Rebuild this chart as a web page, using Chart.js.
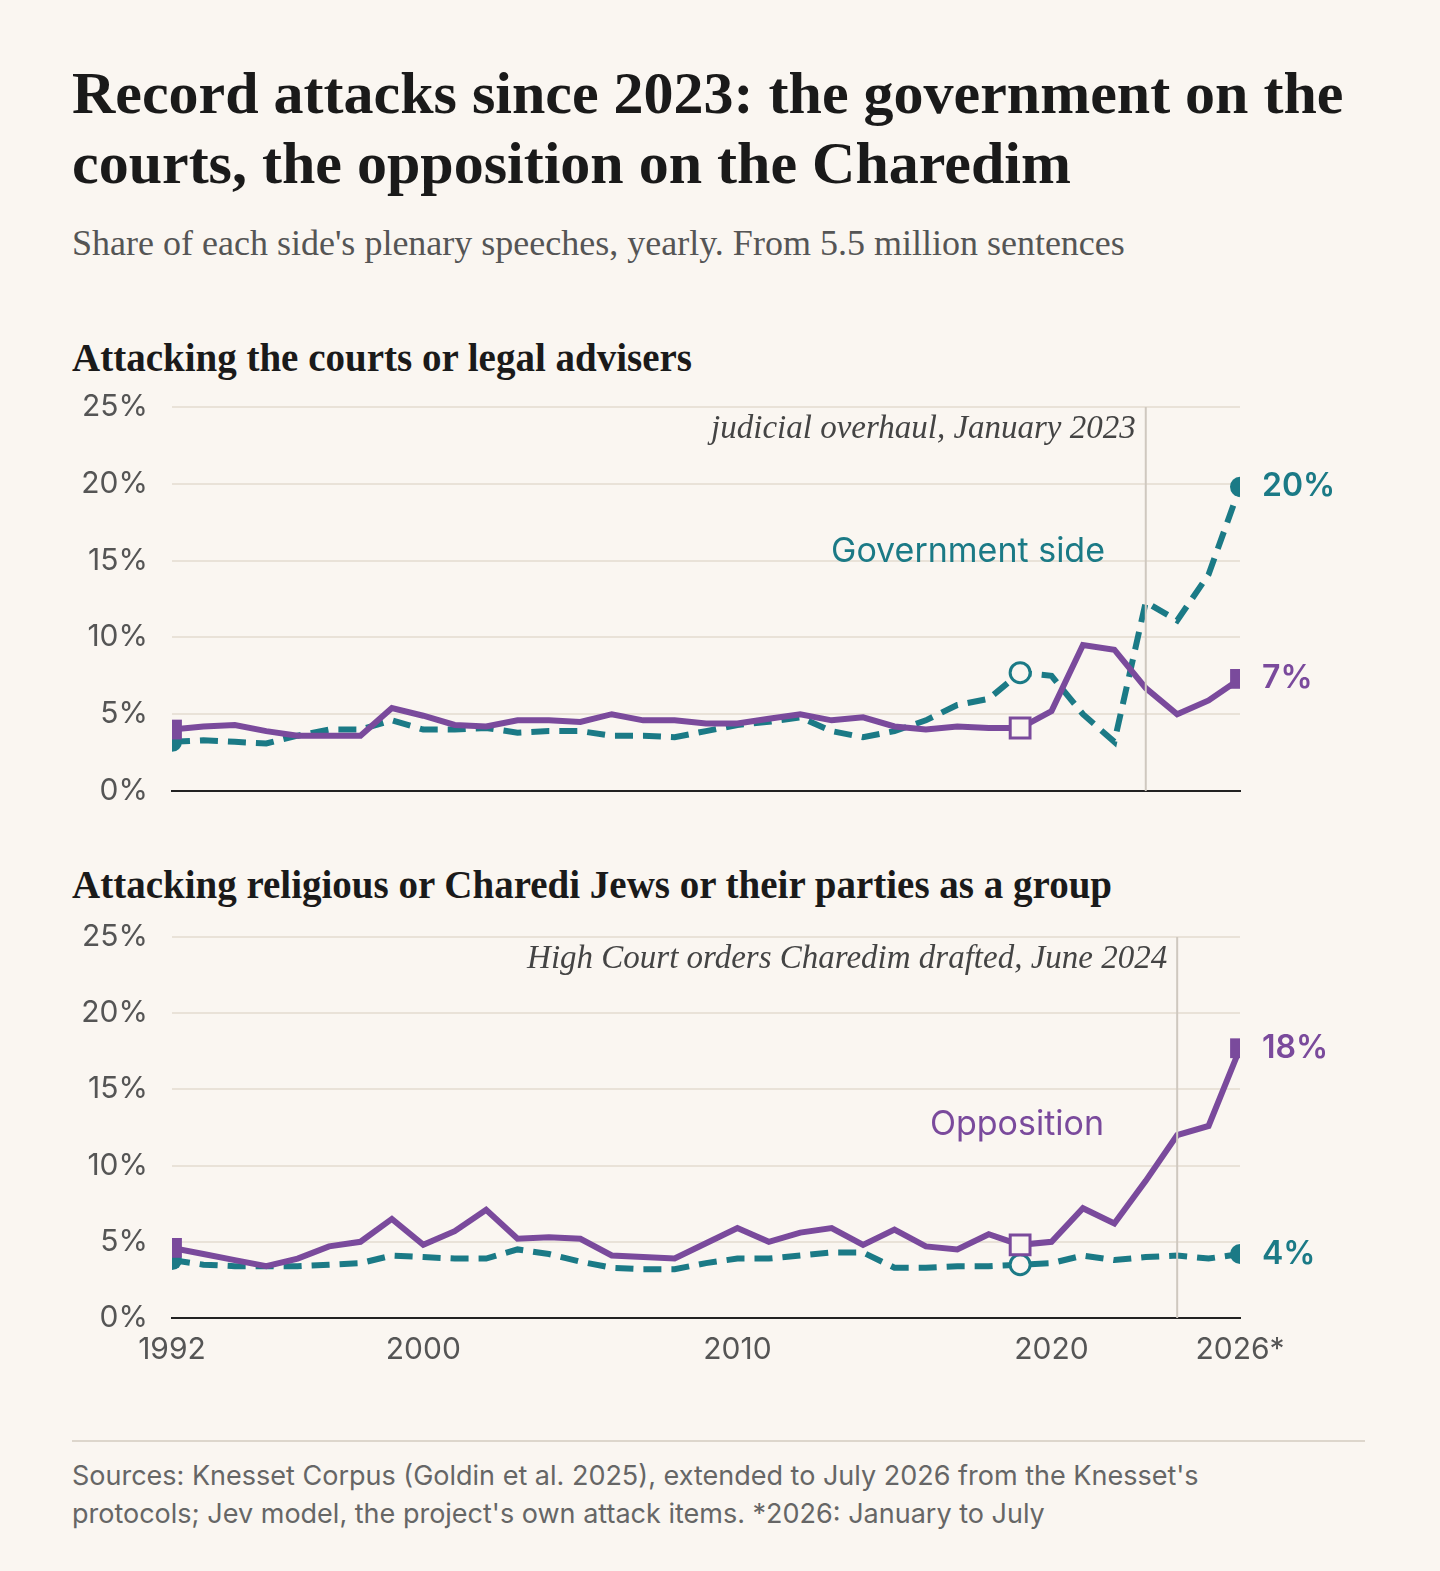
<!DOCTYPE html>
<html>
<head>
<meta charset="utf-8">
<script src="https://cdn.jsdelivr.net/npm/chart.js@4"></script>
<style>
  body { margin:0; background:#faf6f1; width:1440px; height:1571px; position:relative; overflow:hidden; }
  .t { position:absolute; left:72px; margin:0; color:#1a1a1a; }
  h1.t { top:58px; font:bold 60px/70px "Liberation Serif", "DejaVu Serif", serif; width:1340px; }
  .sub { top:222px; font:36px "Liberation Serif", serif; color:#555 !important; }
  h2.t { font:bold 39px "Liberation Serif", serif; }
  canvas { position:absolute; left:0; }
  .rule { position:absolute; left:72px; width:1293px; top:1440px; border-top:2px solid #ddd6cc; }
  .src { position:absolute; left:72px; top:1457px; font:27px/38px Inter, sans-serif; color:#666; width:1200px; }
</style>
</head>
<body>
<h1 class="t">Record attacks since 2023: the government on the courts, the opposition on the Charedim</h1>
<p class="t sub">Share of each side's plenary speeches, yearly. From 5.5 million sentences</p>
<h2 class="t" style="top:335px">Attacking the courts or legal advisers</h2>
<div style="position:absolute;top:365px;left:0"><canvas id="c1" width="1440" height="468"></canvas></div>
<h2 class="t" style="top:862px">Attacking religious or Charedi Jews or their parties as a group</h2>
<div style="position:absolute;top:895px;left:0"><canvas id="c2" width="1440" height="493"></canvas></div>
<div class="rule"></div>
<div class="src">Sources: Knesset Corpus (Goldin et al. 2025), extended to July 2026 from the Knesset's protocols; Jev model, the project's own attack items. *2026: January to July</div>
<script>
const years = [];
for (let y = 1992; y <= 2026; y++) years.push(y);
const xTicks = [1992, 2000, 2010, 2020, 2026];
const yTicks = [0, 5, 10, 15, 20, 25];

// Courts chart (%)
const courtsOpposition = [4.0,4.2,4.3,3.9,3.6,3.6,3.6,5.4,4.9,4.3,4.2,4.6,4.6,4.5,5.0,4.6,4.6,4.4,4.4,4.7,5.0,4.6,4.8,4.2,4.0,4.2,4.1,4.1,5.2,9.5,9.2,6.7,5.0,5.9,7.3];
const courtsGovernment = [3.2,3.3,3.2,3.1,3.6,4.0,4.0,4.6,4.0,4.0,4.1,3.8,3.9,3.9,3.6,3.6,3.5,3.9,4.3,4.5,4.8,3.9,3.5,3.9,4.6,5.6,6.0,7.7,7.5,5.0,3.2,12.3,11.1,14.1,19.8];
// Charedim chart (%)
const charediOpposition = [4.6,4.2,3.8,3.4,3.9,4.7,5.0,6.5,4.8,5.7,7.1,5.2,5.3,5.2,4.1,4.0,3.9,4.9,5.9,5.0,5.6,5.9,4.8,5.8,4.7,4.5,5.5,4.8,5.0,7.2,6.2,9.0,12.0,12.6,17.7];
const charediGovernment = [3.8,3.5,3.4,3.4,3.4,3.5,3.6,4.1,4.0,3.9,3.9,4.5,4.2,3.7,3.3,3.2,3.2,3.6,3.9,3.9,4.1,4.3,4.3,3.3,3.3,3.4,3.4,3.5,3.6,4.1,3.8,4.0,4.1,3.9,4.2];

const PURPLE = '#7a4a9c', TEAL = '#1b7a86', BG = '#faf6f1';
const OPEN_YEAR = 2019;

function pts(vals) { return years.map((y, i) => ({ x: y, y: vals[i] })); }

function marker(style) {
  const r = style === 'rect' ? 14 : 10;
  return {
    pointRadius: c => { const y = years[c.dataIndex]; return (y === 1992 || y === 2026 || y === OPEN_YEAR) ? r : 0; },
    pointStyle: style,
    pointBorderWidth: c => years[c.dataIndex] === OPEN_YEAR ? 3 : 0,
    pointBackgroundColor: c => years[c.dataIndex] === OPEN_YEAR ? BG : (style === 'rect' ? PURPLE : TEAL),
    pointHoverRadius: 0
  };
}

const overlay = {
  id: 'overlay',
  afterDatasetsDraw(chart, args, o) {
    const { ctx, scales: { x, y }, chartArea } = chart;
    ctx.save();
    const vx = x.getPixelForValue(o.eventYear);
    ctx.strokeStyle = '#cfc8bf'; ctx.lineWidth = 2;
    ctx.beginPath(); ctx.moveTo(vx, chartArea.top); ctx.lineTo(vx, chartArea.bottom); ctx.stroke();
    ctx.font = 'italic 33px "Liberation Serif", serif'; ctx.fillStyle = '#444';
    ctx.textAlign = 'right'; ctx.textBaseline = 'middle';
    ctx.fillText(o.eventText, vx - 10, chartArea.top + 22);
    ctx.font = '34px Inter, sans-serif'; ctx.fillStyle = o.seriesColor;
    ctx.fillText(o.seriesText, o.seriesX, y.getPixelForValue(o.seriesY));
    ctx.font = '600 32px Inter, sans-serif'; ctx.textAlign = 'left';
    o.ends.forEach(e => {
      ctx.fillStyle = e.color;
      ctx.fillText(e.text, x.getPixelForValue(2026) + 22, y.getPixelForValue(e.value));
    });
    ctx.restore();
  }
};

function makeChart(id, opp, gov, showX, opts) {
  return new Chart(document.getElementById(id), {
    type: 'line',
    data: { datasets: [
      Object.assign({ data: pts(opp), borderColor: PURPLE, borderWidth: 6, order: 1 }, marker('rect')),
      Object.assign({ data: pts(gov), borderColor: TEAL, borderWidth: 6, borderDash: [18, 10], order: 2 }, marker('circle'))
    ] },
    options: {
      responsive: false, animation: false,
      layout: { padding: { top: 10, right: 200, left: 0, bottom: 0 } },
      plugins: { legend: { display: false }, tooltip: { enabled: false }, overlay: opts },
      scales: {
        x: {
          type: 'linear', min: 1992, max: 2026, offset: false,
          afterBuildTicks: s => { s.ticks = xTicks.map(v => ({ value: v })); },
          afterFit: s => { s.height = showX ? 70 : 7; },
          grid: { display: false, drawTicks: false },
          border: { color: '#222', width: 2 },
          ticks: { display: showX, padding: 14, color: '#555', font: { family: 'Inter', size: 30 },
                   callback: v => v === 2026 ? '2026*' : String(v) }
        },
        y: {
          min: 0, max: 25,
          afterBuildTicks: s => { s.ticks = yTicks.map(v => ({ value: v })); },
          afterFit: s => { s.width = 172; },
          grid: { color: '#e9e2d8', lineWidth: 2, drawTicks: false },
          border: { display: false },
          ticks: { padding: 24, color: '#555', font: { family: 'Inter', size: 30 }, callback: v => v + '%' }
        }
      }
    },
    plugins: [overlay]
  });
}

makeChart('c1', courtsOpposition, courtsGovernment, false, {
  eventYear: 2023, eventText: 'judicial overhaul, January 2023',
  seriesText: 'Government side', seriesColor: TEAL, seriesX: 1105, seriesY: 15.6,
  ends: [{ text: '20%', value: 19.8, color: TEAL }, { text: '7%', value: 7.3, color: PURPLE }]
});
makeChart('c2', charediOpposition, charediGovernment, true, {
  eventYear: 2024, eventText: 'High Court orders Charedim drafted, June 2024',
  seriesText: 'Opposition', seriesColor: PURPLE, seriesX: 1104, seriesY: 12.7,
  ends: [{ text: '18%', value: 17.7, color: PURPLE }, { text: '4%', value: 4.2, color: TEAL }]
});
</script>
</body>
</html>
